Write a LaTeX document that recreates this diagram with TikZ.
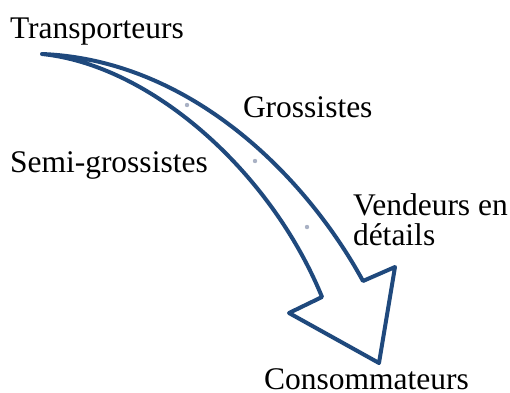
\documentclass[tikz,border=0pt]{standalone}
\usepackage{fontspec}
\setmainfont{Liberation Serif}
\definecolor{arrowblue}{HTML}{1F497D}
\definecolor{dotgray}{HTML}{A9B1C4}
\begin{document}
\begin{tikzpicture}[x=1pt,y=-1pt,
  lbl/.style={anchor=base west,inner sep=0pt,outer sep=0pt,font=\fontsize{31.5}{30}\selectfont},
  arrowline/.style={draw=arrowblue,line width=4pt,line cap=round,line join=round},
  dotmark/.style={fill=dotgray,draw=none}]
\useasboundingbox (0,0) rectangle (510,392);
% arrow outline
\coordinate (tail) at (42,54);
\coordinate (rbin) at (363,281);
\coordinate (rbout) at (395,267);
\coordinate (tip) at (379,363);
\coordinate (lbout) at (289,313);
\coordinate (lbin) at (322,297);
\draw[arrowline] (tail) .. controls (190,60) and (305,175) .. (rbin)
  -- (rbout) -- (tip) -- (lbout) -- (lbin)
  .. controls (270,170) and (150,65) .. (tail);
% dots
\fill[dotmark] (187,105) circle (2.2);
\fill[dotmark] (255,161) circle (2.2);
\fill[dotmark] (307,227) circle (2.2);
% labels
\node[lbl] (transp) at (10,38) {Transporteurs};
\node[lbl] (semi) at (10,172) {Semi-grossistes};
\node[lbl] (gross) at (243,117) {Grossistes};
\node[lbl] (vend1) at (353,215) {Vendeurs en};
\node[lbl] (vend2) at (353,245) {détails};
\node[lbl] (cons) at (264,389) {Consommateurs};
\end{tikzpicture}
\end{document}
